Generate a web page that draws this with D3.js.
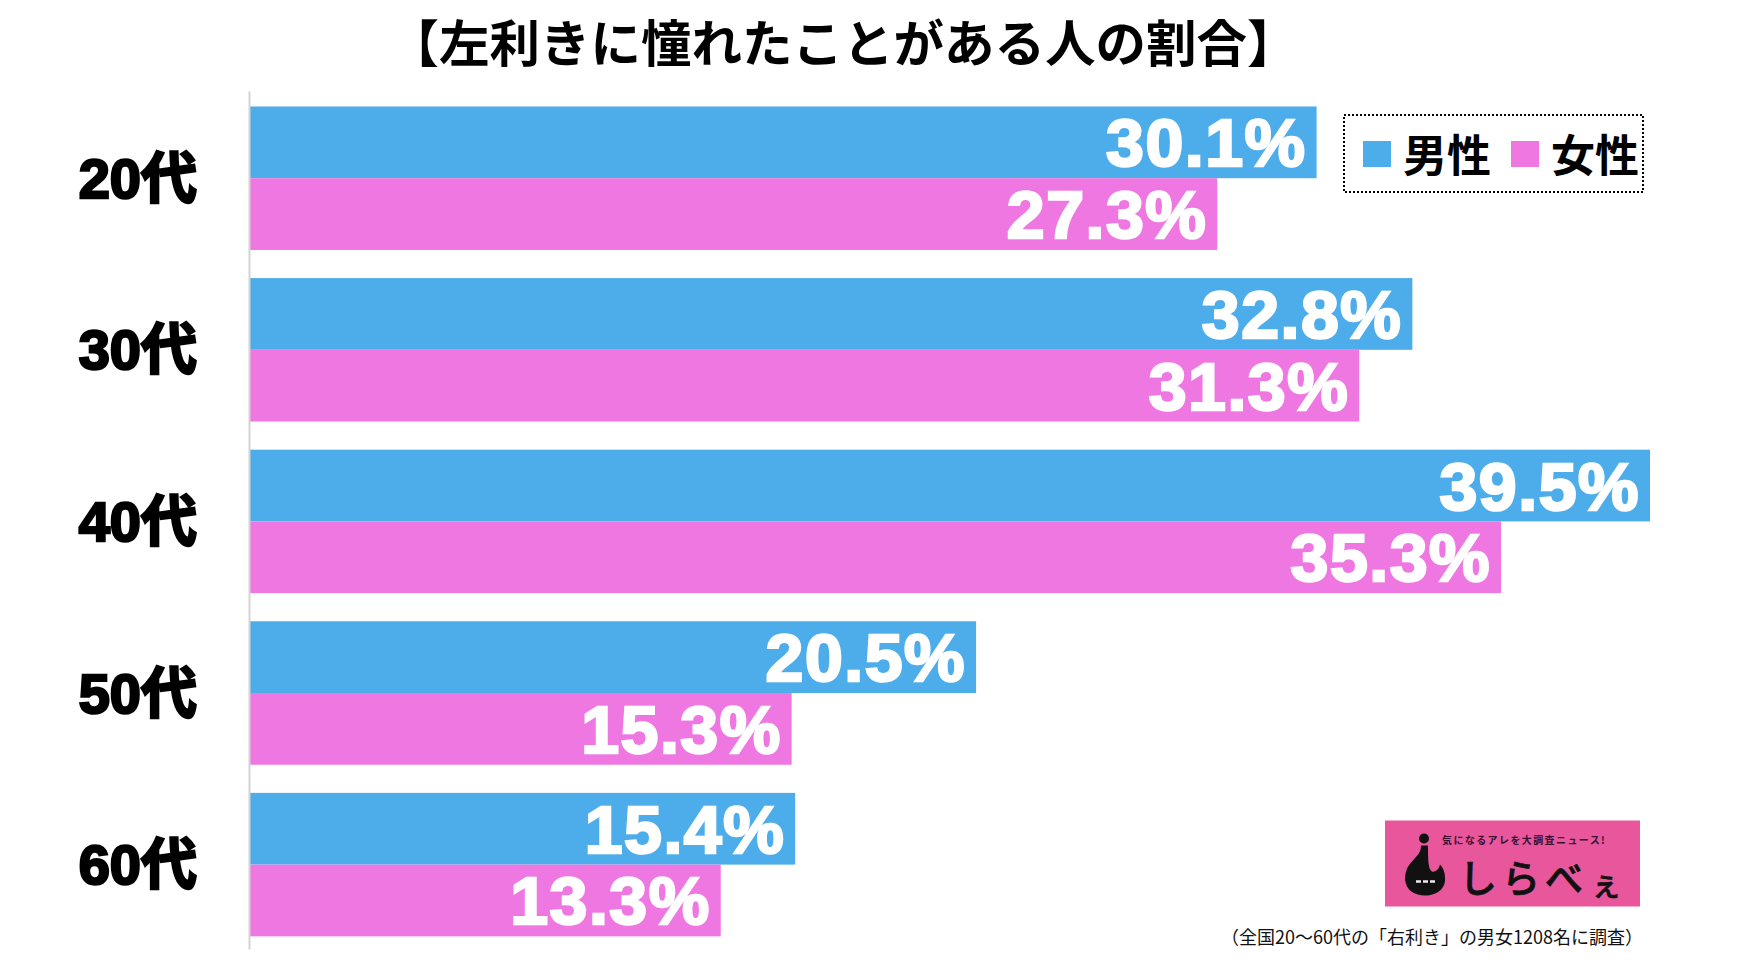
<!DOCTYPE html>
<html lang="ja">
<head>
<meta charset="utf-8">
<title>左利きに憧れたことがある人の割合</title>
<script src="https://d3js.org/d3.v7.min.js"></script>
<style>
  html, body { margin: 0; padding: 0; background: #fff; overflow: hidden; }
  text { font-family: "Liberation Sans", "Noto Sans CJK JP", sans-serif; }
  .jp { font-family: "Noto Sans CJK JP", sans-serif; }
</style>
</head>
<body>
<div id="chart"></div>
<script>
// data
const ageGroups = ["20代", "30代", "40代", "50代", "60代"];
const seriesNames = ["男性", "女性"];
const maleValues = [30.1, 32.8, 39.5, 20.5, 15.4];
const femaleValues = [27.3, 31.3, 35.3, 15.3, 13.3];
const seriesColors = ["#4dadea", "#ee77e2"];
const titleText = "【左利きに憧れたことがある人の割合】";
const noteText = "（全国20～60代の「右利き」の男女1208名に調査）";

const width = 1739, height = 968;
const axisX = 249;

const svg = d3.select("#chart").append("svg")
  .attr("width", width)
  .attr("height", height)
  .style("display", "block");

const x = d3.scaleLinear().domain([0, 39.5]).range([axisX, 1650]);
const y = d3.scaleBand().domain(ageGroups).range([91, 949])
  .paddingInner(0.164).paddingOuter(0.082).align(0.55);
const ySeries = d3.scaleBand().domain(seriesNames).range([0, y.bandwidth()]);

// title
svg.append("text")
  .attr("class", "jp")
  .attr("x", 843)
  .attr("y", 62)
  .attr("text-anchor", "middle")
  .attr("font-size", 50.5)
  .attr("font-weight", 700)
  .attr("fill", "#000")
  .text(titleText);

// bars
const rows = ageGroups.map((age, i) => ({ age, values: [maleValues[i], femaleValues[i]] }));
const row = svg.selectAll("g.row").data(rows).enter().append("g")
  .attr("class", "row")
  .attr("transform", d => `translate(0,${y(d.age)})`);

const cell = row.selectAll("g.cell")
  .data(d => d.values.map((v, i) => ({ name: seriesNames[i], color: seriesColors[i], value: v })))
  .enter().append("g").attr("class", "cell");

cell.append("rect")
  .attr("x", x(0))
  .attr("y", d => ySeries(d.name))
  .attr("width", d => x(d.value) - x(0))
  .attr("height", ySeries.bandwidth())
  .attr("fill", d => d.color);

// reference digits are wider than Liberation Bold, so space and stretch them a little
cell.append("text")
  .attr("x", d => x(d.value) - 10)
  .attr("y", d => ySeries(d.name) + ySeries.bandwidth() / 2 + 24)
  .attr("text-anchor", "end")
  .attr("font-size", 66)
  .attr("font-weight", 700)
  .attr("letter-spacing", 1.5)
  .attr("fill", "#fff")
  .attr("stroke", "#fff")
  .attr("stroke-width", 2.5)
  .text(d => d.value.toFixed(1) + "%")
  .attr("lengthAdjust", "spacingAndGlyphs")
  .attr("textLength", function() { return this.getComputedTextLength() * 1.03; });

// category axis
const axis = svg.append("g")
  .attr("transform", `translate(${axisX},0)`)
  .call(d3.axisLeft(y).tickSize(0).tickPadding(52));
axis.select(".domain").attr("stroke", "#d4d4d4").attr("stroke-width", 2);
axis.selectAll("text")
  .attr("font-size", 56)
  .attr("font-weight", 700)
  .attr("dy", "0.35em")
  .attr("fill", "#000")
  .attr("stroke", "#000")
  .attr("stroke-width", 2.5)
  .style("font-family", '"Liberation Sans", "Noto Sans CJK JP", sans-serif');

// legend
const legend = svg.append("g");
legend.append("rect")
  .attr("x", 1344).attr("y", 115)
  .attr("width", 299).attr("height", 77)
  .attr("fill", "#fff")
  .attr("stroke", "#000")
  .attr("stroke-width", 2)
  .attr("stroke-dasharray", "2 2");
const legendX = d3.scaleOrdinal().domain(seriesNames).range([1363, 1511]);
const legendItem = legend.selectAll("g.item").data(seriesNames).enter().append("g").attr("class", "item");
legendItem.append("rect")
  .attr("x", d => legendX(d)).attr("y", 141)
  .attr("width", 28).attr("height", 26)
  .attr("fill", (d, i) => seriesColors[i]);
legendItem.append("text")
  .attr("class", "jp")
  .attr("x", d => legendX(d) + 40)
  .attr("y", 172)
  .attr("font-size", 44)
  .attr("font-weight", 700)
  .attr("fill", "#000")
  .text(d => d);

// logo
const logo = svg.append("g").attr("transform", "translate(1385,820.5)");
logo.append("rect").attr("width", 255).attr("height", 86).attr("fill", "#e8579b");
logo.append("text")
  .attr("class", "jp")
  .attr("x", 57).attr("y", 23)
  .attr("font-size", 10)
  .attr("font-weight", 700)
  .attr("letter-spacing", 1.4)
  .attr("fill", "#3a1030")
  .text("気になるアレを大調査ニュース!");
logo.append("circle").attr("cx", 39).attr("cy", 18).attr("r", 5).attr("fill", "#111");
logo.append("path")
  .attr("d", "M36 25 C36 33 31 36 27 41 C22 46 20 52 20 59 C21 70 30 75 40 75 C52 75 61 68 60 57 C60 52 58 47 55 44 C54 49 50 52 47 51 C43 49 43 38 43 25 Z")
  .attr("fill", "#111");
logo.append("path")
  .attr("d", "M31 61 H50")
  .attr("stroke", "#f3e6ee")
  .attr("stroke-width", 2.5)
  .attr("stroke-dasharray", "5 2");
logo.append("text")
  .attr("class", "jp")
  .attr("x", 74).attr("y", 71)
  .attr("font-size", 38)
  .attr("font-weight", 500)
  .attr("letter-spacing", 5)
  .attr("fill", "#111")
  .attr("stroke", "#111")
  .attr("stroke-width", 0.8)
  .text("しらべ");
logo.append("text")
  .attr("class", "jp")
  .attr("x", 205).attr("y", 75)
  .attr("font-size", 32)
  .attr("font-weight", 500)
  .attr("fill", "#111")
  .attr("stroke", "#111")
  .attr("stroke-width", 0.6)
  .text("ぇ");

// note
svg.append("text")
  .attr("class", "jp")
  .attr("x", 1643).attr("y", 944)
  .attr("text-anchor", "end")
  .attr("font-size", 18)
  .attr("fill", "#111")
  .text(noteText);
</script>
</body>
</html>
